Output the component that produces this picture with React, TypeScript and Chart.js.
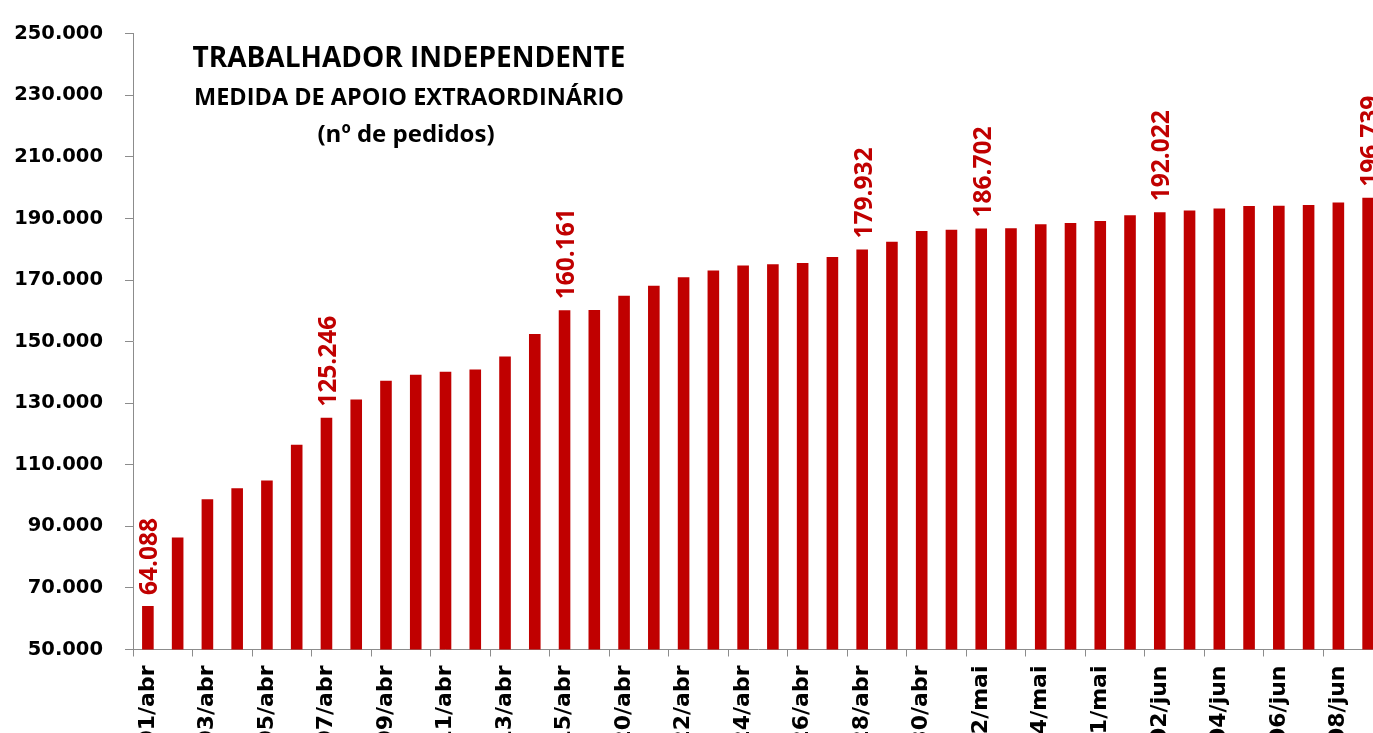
import React, { useEffect, useRef } from 'react';
import { Chart, registerables } from 'chart.js';

Chart.register(...registerables);

// ---- Data ----
const categories: string[] = [
  '01/abr', '02/abr', '03/abr', '04/abr', '05/abr', '06/abr', '07/abr', '08/abr', '09/abr', '10/abr',
  '11/abr', '12/abr', '13/abr', '14/abr', '15/abr', '17/abr', '20/abr', '21/abr', '22/abr', '23/abr',
  '24/abr', '25/abr', '26/abr', '27/abr', '28/abr', '29/abr', '30/abr', '01/mai', '02/mai', '03/mai',
  '04/mai', '05/mai', '31/mai', '01/jun', '02/jun', '03/jun', '04/jun', '05/jun', '06/jun', '07/jun',
  '08/jun', '09/jun',
];

const requests: number[] = [
  64088, 86400, 98800, 102400, 104900, 116500, 125246, 131200, 137300, 139200,
  140200, 140900, 145200, 152500, 160161, 160300, 164900, 168100, 170900, 173100,
  174700, 175100, 175500, 177500, 179932, 182400, 185900, 186300, 186702, 186800,
  188100, 188500, 189200, 191000, 192022, 192600, 193200, 194000, 194100, 194400,
  195200, 196739,
];

// Bars whose value is written above them
const labelledIndices: number[] = [0, 6, 14, 24, 28, 34, 41];

const yMin = 50000;
const yMax = 250000;
const yStep = 20000;

const titleLines: string[] = [
  'TRABALHADOR INDEPENDENTE',
  'MEDIDA DE APOIO EXTRAORDINÁRIO',
  '(nº de pedidos)',
];

const fmt = (n: number) => String(Math.round(n)).replace(/\B(?=(\d{3})+(?!\d))/g, '.');

const BAR_COLOR = '#C00000';
const AXIS_COLOR = '#8c8c8c';

export default function App() {
  const ref = useRef<HTMLCanvasElement>(null);

  useEffect(() => {
    document.documentElement.style.overflow = 'hidden';
    document.body.style.overflow = 'hidden';
    const canvas = ref.current;
    if (!canvas) return;

    const titlePlugin = {
      id: 'titleBlock',
      afterDraw(chart: any) {
        const ctx = chart.ctx as CanvasRenderingContext2D;
        ctx.save();
        ctx.fillStyle = '#000';
        ctx.textAlign = 'center';
        ctx.textBaseline = 'alphabetic';
        ctx.font = 'bold 28px "Open Sans"';
        ctx.fillText(titleLines[0], 409, 66.5);
        ctx.font = 'bold 23.5px "Open Sans"';
        ctx.fillText(titleLines[1], 409, 105);
        ctx.font = 'bold 24px "Open Sans"';
        ctx.fillText(titleLines[2], 406, 141.5);
        ctx.restore();
      },
    };

    const valuePlugin = {
      id: 'valueLabels',
      afterDatasetsDraw(chart: any) {
        const meta = chart.getDatasetMeta(0);
        const ctx = chart.ctx as CanvasRenderingContext2D;
        ctx.save();
        ctx.fillStyle = BAR_COLOR;
        ctx.font = 'bold 24.5px "Open Sans"';
        ctx.textAlign = 'left';
        ctx.textBaseline = 'alphabetic';
        labelledIndices.forEach((i) => {
          const el = meta.data[i];
          if (!el) return;
          ctx.save();
          ctx.translate(el.x + 9.5, el.y - 11);
          ctx.rotate(-Math.PI / 2);
          ctx.fillText(fmt(requests[i]), 0, 0);
          ctx.restore();
        });
        ctx.restore();
      },
    };

    const chart = new Chart(canvas, {
      type: 'bar',
      data: {
        labels: categories,
        datasets: [
          {
            data: requests,
            backgroundColor: BAR_COLOR,
            borderWidth: 0,
            categoryPercentage: 1,
            barPercentage: 0.39,
          },
        ],
      },
      options: {
        responsive: false,
        animation: false,
        layout: { padding: { top: 29.5, right: 0, bottom: 0, left: 0 } },
        plugins: {
          legend: { display: false },
          tooltip: { enabled: false },
          title: { display: false },
        },
        scales: {
          x: {
            grid: {
              offset: true,
              drawOnChartArea: false,
              tickLength: 7,
              lineWidth: 1,
              color: (c: any) => (c.index % 2 === 0 ? AXIS_COLOR : 'rgba(0,0,0,0)'),
            },
            border: { display: true, color: AXIS_COLOR, width: 1 },
            ticks: {
              autoSkip: false,
              maxRotation: 90,
              minRotation: 90,
              padding: 9,
              color: '#000',
              font: { family: 'DejaVu Sans', weight: 'bold', size: 22 },
              callback: (_v: any, i: number) => (i % 2 === 0 ? categories[i] : ''),
            },
            afterFit: (s: any) => {
              s.height = 83.5;
              s.paddingLeft = 0;
              s.paddingRight = 0;
            },
          },
          y: {
            min: yMin,
            max: yMax,
            ticks: {
              stepSize: yStep,
              padding: 22,
              color: '#000',
              font: { family: 'DejaVu Sans', weight: 'bold', size: 19.5 },
              callback: (v: any) => fmt(Number(v)),
            },
            grid: { drawOnChartArea: false, tickLength: 8, color: AXIS_COLOR },
            border: { display: true, color: AXIS_COLOR, width: 1 },
            afterFit: (s: any) => {
              s.width = 133;
            },
          },
        },
      },
      plugins: [titlePlugin, valuePlugin],
    } as any);

    return () => chart.destroy();
  }, []);

  return (
    <div style={{ position: 'fixed', left: 0, top: 0, width: 1383, height: 733, background: '#fff' }}>
      <canvas ref={ref} width={1383} height={733} style={{ display: 'block' }} />
    </div>
  );
}
